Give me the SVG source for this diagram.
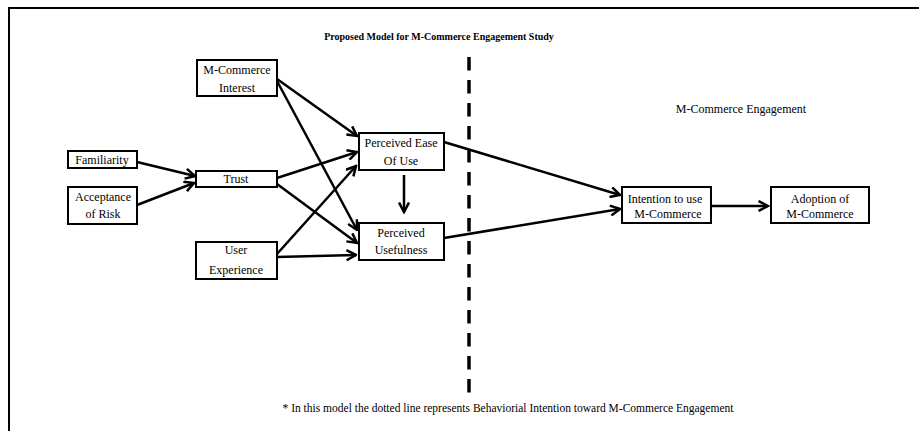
<svg xmlns="http://www.w3.org/2000/svg" width="919" height="431" viewBox="0 0 919 431">
<style>
text{font-family:"Liberation Serif","Times New Roman",serif;font-size:12px;fill:#000;text-anchor:middle}
.box{fill:#fff;stroke:#000;stroke-width:2}
.con{stroke:#000;stroke-width:2.5;fill:none;marker-end:url(#ah)}
</style>
<defs>
<marker id="ah" viewBox="0 0 12 12" refX="10.5" refY="6" markerWidth="12" markerHeight="12" markerUnits="userSpaceOnUse" orient="auto">
<path d="M1,1 L10.5,6 L1,11" fill="none" stroke="#000" stroke-width="2.5"/>
</marker>
</defs>
<rect width="919" height="431" fill="#fff"/>
<path d="M9,431 V8 H919" fill="none" stroke="#000" stroke-width="2"/>
<text x="439" y="40" style="font-weight:bold;font-size:10px">Proposed Model for M-Commerce Engagement Study</text>
<line x1="469" y1="57" x2="469" y2="396" stroke="#000" stroke-width="3.5" stroke-dasharray="13.5 9.5"/>
<text x="741" y="113">M-Commerce Engagement</text>
<text x="508" y="412" style="font-size:11.5px">* In this model the dotted line represents Behaviorial Intention toward M-Commerce Engagement</text>
<g id="connectors">
<line class="con" x1="137" y1="162" x2="195" y2="176"/>
<line class="con" x1="137" y1="205" x2="194" y2="183"/>
<line class="con" x1="277" y1="79" x2="357" y2="136"/>
<line class="con" x1="277" y1="81" x2="357" y2="230"/>
<line class="con" x1="277" y1="178" x2="357" y2="152"/>
<line class="con" x1="277" y1="184" x2="357" y2="243"/>
<line class="con" x1="277" y1="254" x2="356" y2="166"/>
<line class="con" x1="277" y1="257" x2="356" y2="255"/>
<line class="con" x1="404" y1="175" x2="404" y2="212"/>
<line class="con" x1="444" y1="142" x2="620" y2="195"/>
<line class="con" x1="444" y1="238" x2="620" y2="209"/>
<line class="con" x1="712" y1="206" x2="768" y2="206"/>
</g>
<g id="mci"><rect class="box" x="197" y="60" width="80" height="36"/><text x="237" y="74">M-Commerce</text><text x="237" y="92">Interest</text></g>
<g id="familiarity"><rect class="box" x="68" y="151" width="69" height="17"/><text x="102" y="164">Familiarity</text></g>
<g id="acceptance"><rect class="box" x="68" y="187" width="69" height="37"/><text x="103" y="201">Acceptance</text><text x="103" y="218">of Risk</text></g>
<g id="trust"><rect class="box" x="196" y="171" width="81" height="16"/><text x="236" y="183">Trust</text></g>
<g id="ue"><rect class="box" x="196" y="242" width="81" height="37"/><text x="236" y="254">User</text><text x="236" y="274">Experience</text></g>
<g id="peou"><rect class="box" x="359" y="133" width="85" height="37"/><text x="401" y="147">Perceived Ease</text><text x="401" y="165">Of Use</text></g>
<g id="pu"><rect class="box" x="359" y="223" width="85" height="37"/><text x="401" y="237">Perceived</text><text x="401" y="254">Usefulness</text></g>
<g id="intention"><rect class="box" x="622" y="187" width="89" height="36"/><text x="665" y="203">Intention to use</text><text x="668" y="218">M-Commerce</text></g>
<g id="adoption"><rect class="box" x="771" y="187" width="98" height="36"/><text x="820" y="203">Adoption of</text><text x="820" y="218">M-Commerce</text></g>
</svg>
